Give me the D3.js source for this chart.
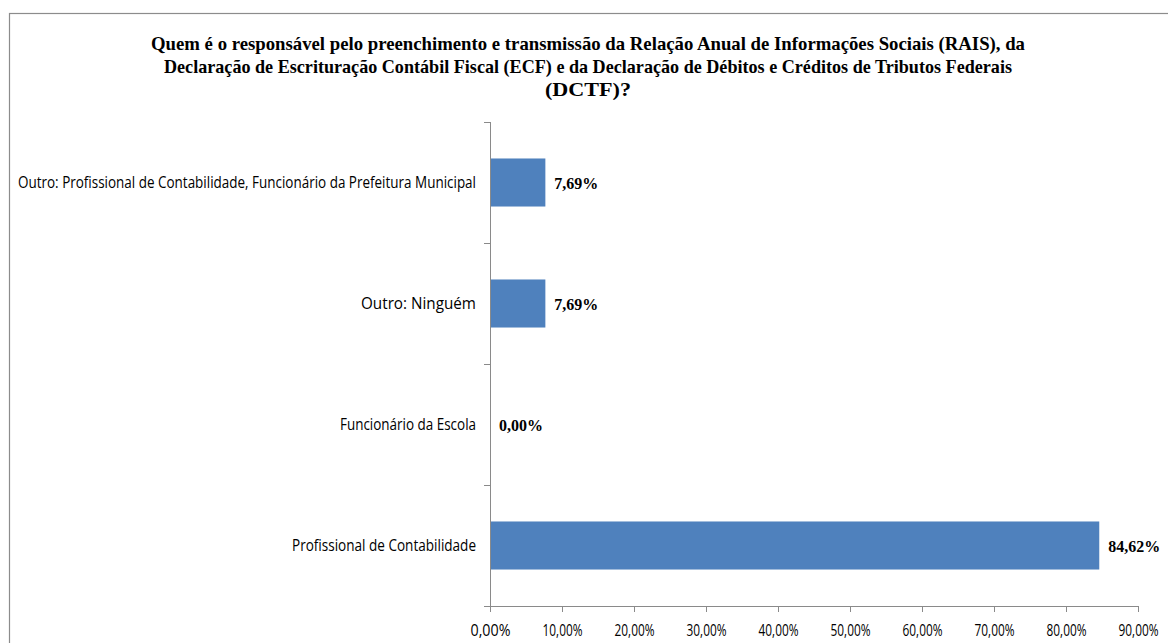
<!DOCTYPE html>
<html>
<head>
<meta charset="utf-8">
<script src="https://cdn.jsdelivr.net/npm/d3@7"></script>
<style>
  html, body { margin: 0; padding: 0; background: #fff; }
  svg { display: block; }
</style>
</head>
<body>
<svg id="chart" width="1168" height="643"></svg>
<script>
// Categories, bottom to top as drawn on the vertical axis
const categories = [
  "Profissional de Contabilidade",
  "Funcionário da Escola",
  "Outro: Ninguém",
  "Outro: Profissional de Contabilidade, Funcionário da Prefeitura Municipal"
];
const values = [84.62, 0.00, 7.69, 7.69];
const xTicks = [0, 10, 20, 30, 40, 50, 60, 70, 80, 90];
const titleLines = [
  "Quem é o responsável pelo preenchimento e transmissão da Relação Anual de Informações Sociais (RAIS), da",
  "Declaração de Escrituração Contábil Fiscal (ECF) e da Declaração de Débitos e Créditos de Tributos Federais",
  "(DCTF)?"
];

const fmt = v => v.toFixed(2).replace(".", ",") + "%";

const svg = d3.select("#chart");
const W = 1168, H = 643;
const plot = { left: 490, right: 1138, top: 122, bottom: 606 };

// Chart frame
svg.append("rect")
  .attr("x", 9.5).attr("y", 13.5)
  .attr("width", W + 10).attr("height", H + 10)
  .attr("fill", "#fff").attr("stroke", "#8c8c8c").attr("stroke-width", 1.2);

// Title (condensed bold serif)
const titleWidths = [874, 848, 86];
const title = svg.append("g").attr("font-family", "'Liberation Serif', 'Times New Roman', serif")
  .attr("font-weight", "bold").attr("font-size", 19).attr("fill", "#000");
titleLines.forEach((t, i) => {
  title.append("text")
    .attr("x", 588).attr("y", 50 + i * 23)
    .attr("text-anchor", "middle")
    .attr("textLength", titleWidths[i])
    .attr("lengthAdjust", "spacingAndGlyphs")
    .text(t);
});

// Scales
const x = d3.scaleLinear().domain([0, 90]).range([plot.left, plot.right]);
const y = d3.scaleBand()
  .domain(categories.slice().reverse())
  .range([plot.top, plot.bottom])
  .paddingInner(0.603)
  .paddingOuter(0.3015);

const axisColor = "#8a8a8a";
const rows = categories.map((c, i) => ({ c, v: values[i] }));

// Bars
svg.append("g").selectAll("rect")
  .data(rows)
  .join("rect")
  .attr("x", x(0))
  .attr("y", d => y(d.c))
  .attr("width", d => x(d.v) - x(0))
  .attr("height", y.bandwidth())
  .attr("fill", "#4f81bd");

// Value labels
svg.append("g").selectAll("text")
  .data(rows)
  .join("text")
  .attr("x", d => x(d.v) + 9)
  .attr("y", d => y(d.c) + y.bandwidth() / 2 + 6)
  .attr("font-family", "'Liberation Serif', 'Times New Roman', serif")
  .attr("font-weight", "bold")
  .attr("font-size", 17)
  .attr("fill", "#000")
  .attr("textLength", d => d.v >= 10 ? 52 : 44)
  .attr("lengthAdjust", "spacingAndGlyphs")
  .text(d => fmt(d.v));

// X axis
const xAxis = svg.append("g")
  .attr("transform", `translate(0,${plot.bottom})`)
  .call(d3.axisBottom(x).tickValues(xTicks).tickSize(6).tickSizeOuter(0).tickFormat(d => fmt(d)));
xAxis.select(".domain").attr("stroke", axisColor);
xAxis.selectAll(".tick line").attr("stroke", axisColor);
// Tick labels in a narrowed sans: squeeze each label horizontally to 40px
xAxis.selectAll(".tick text")
  .attr("font-family", "'Open Sans', 'Liberation Sans', sans-serif")
  .attr("font-size", 15.5)
  .attr("fill", "#000")
  .attr("y", 0)
  .attr("dy", 0)
  .each(function () {
    const w = this.getComputedTextLength();
    d3.select(this).attr("transform", `translate(0,30) scale(${40 / w},1)`);
  });

// Y axis: line plus tick marks at category boundaries
const yAxis = svg.append("g");
yAxis.append("line")
  .attr("x1", plot.left + 0.5).attr("x2", plot.left + 0.5)
  .attr("y1", y.range()[0]).attr("y2", y.range()[1])
  .attr("stroke", axisColor);
const boundaries = d3.range(categories.length + 1).map(i => y.range()[0] + i * (y.range()[1] - y.range()[0]) / categories.length);
yAxis.selectAll("line.b")
  .data(boundaries)
  .join("line")
  .attr("class", "b")
  .attr("x1", plot.left - 6).attr("x2", plot.left)
  .attr("y1", d => Math.round(d) + 0.5).attr("y2", d => Math.round(d) + 0.5)
  .attr("stroke", axisColor);

// Category labels (condensed sans)
const labelWidths = {
  "Profissional de Contabilidade": 184,
  "Funcionário da Escola": 136,
  "Outro: Ninguém": 115,
  "Outro: Profissional de Contabilidade, Funcionário da Prefeitura Municipal": 458
};
yAxis.selectAll("text")
  .data(categories)
  .join("text")
  .attr("x", plot.left - 14)
  .attr("y", d => y(d) + y.bandwidth() / 2 + 5)
  .attr("text-anchor", "end")
  .attr("font-family", "'Open Sans', 'Liberation Sans', sans-serif")
  .attr("font-size", 15.5)
  .attr("fill", "#000")
  .attr("textLength", d => labelWidths[d])
  .attr("lengthAdjust", "spacingAndGlyphs")
  .text(d => d);
</script>
</body>
</html>
